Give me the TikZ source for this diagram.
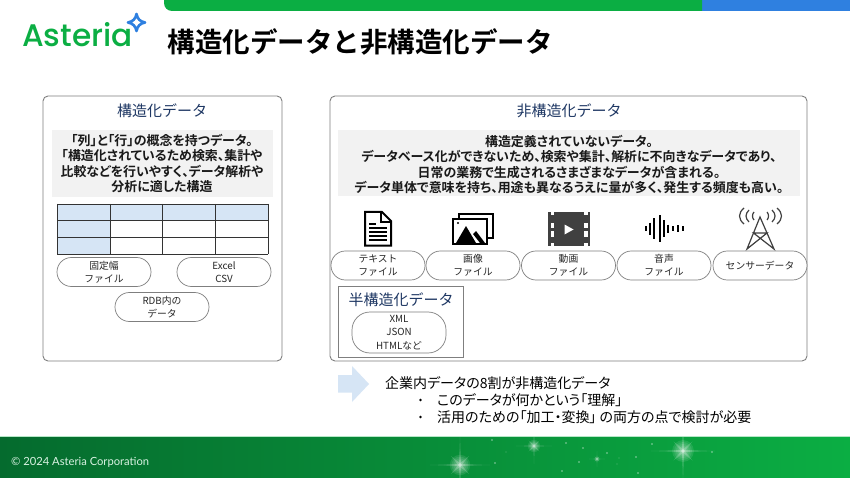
\documentclass[tikz,border=0pt]{standalone}
\usepackage{fontspec}
\setmainfont{Noto Sans CJK JP}[BoldFont={Noto Sans CJK JP Bold}]
\newfontfamily\logofont{Poppins Medium}
\newfontfamily\footfont{Lato}
\newfontfamily\medfont{Noto Sans CJK JP Bold}[RawFeature={+palt}]
\newfontfamily\notefont{Noto Sans CJK JP}[RawFeature={+palt}]
\definecolor{agreen}{HTML}{0BAE43}
\definecolor{ablue}{HTML}{2F80E0}
\definecolor{adark}{HTML}{1F3864}
\definecolor{agrey}{HTML}{F2F2F2}
\definecolor{alight}{HTML}{D6E5F5}
\definecolor{aline}{HTML}{7F7F7F}
\definecolor{iconc}{HTML}{404040}
\definecolor{footl}{HTML}{056B2E}
\newcommand{\spikes}[4]{% x y r opacity
 \fill[white,opacity=#4] (#1-#3,#2) -- (#1,#2-.03*#3) -- (#1+#3,#2) -- (#1,#2+.03*#3) -- cycle;
 \fill[white,opacity=#4] (#1,#2-#3) -- (#1-.03*#3,#2) -- (#1,#2+#3) -- (#1+.03*#3,#2) -- cycle;
}
\newcommand{\sparkle}[3]{%
 \spikes{#1}{#2}{#3}{.18}
 \spikes{#1}{#2}{.55*#3}{.22}
 \foreach \ang in {45,135} {\begin{scope}[shift={(#1,#2)},rotate=\ang]\fill[white,opacity=.18] (-.42*#3,0) -- (0,-.05*#3) -- (.42*#3,0) -- (0,.05*#3) -- cycle;\end{scope}}
 \foreach \rr in {.34,.28,.22,.17,.12,.07} {\fill[white,opacity=.1] (#1,#2) circle[radius=\rr*#3];}
}
\tikzset{
 x=1pt,y=-1pt,
 panel/.style={draw=aline,line width=.9pt,rounded corners=5pt,fill=white},
 heading/.style={text=adark,font=\fontsize{15}{18}\selectfont,inner sep=0pt,anchor=center},
 bodytext/.style={align=center,font=\medfont\fontsize{12.95}{15.3}\selectfont,inner sep=0pt,anchor=center,text=black!90},
 pill/.style={draw=aline,line width=.7pt,fill=white,rounded corners=14.4pt,inner sep=0pt,minimum width=94pt,minimum height=29pt,align=center,font=\fontsize{9.8}{13.2}\selectfont,text=black!85},
 cell/.style={draw=black!80,line width=.9pt},
 iconline/.style={draw=black,line width=2pt,line join=miter},
 note/.style={inner sep=0pt,anchor=west,font=\notefont\fontsize{14}{15}\selectfont},
}
\begin{document}
\begin{tikzpicture}
\useasboundingbox (0,0) rectangle (850,478);
\fill[white] (0,0) rectangle (850,478);
% top bar
\fill[ablue] (690,0) rectangle (850,11);
\fill[agreen] (164,0) -- (164,3) arc[start angle=180,end angle=90,radius=8] -- (702,11) -- (702,0) -- cycle;
% logo
\node[inner sep=0pt,anchor=west,text=agreen,font=\logofont\fontsize{31.2}{31.2}\selectfont] (logo) at (22,35) {Asteria};
\draw[ablue,line width=2.6pt,line join=round] (136.5,14) .. controls (137.5,19) and (140,21.5) .. (145,22.5) .. controls (140,23.5) and (137.5,26) .. (136.5,31) .. controls (135.5,26) and (133,23.5) .. (128,22.5) .. controls (133,21.5) and (135.5,19) .. (136.5,14) -- cycle;
% title
\node[inner sep=0pt,anchor=center,font=\bfseries\fontsize{27.5}{30}\selectfont] (title) at (360,42) {構造化データと非構造化データ};
% left panel
\draw[panel] (43,96) rectangle (282,361);
\node[heading] (h1) at (162,111) {構造化データ};
\fill[agrey] (52,130) rectangle (273,197);
\node[bodytext] (t1) at (162,163.5) {「列」と「行」の概念を持つデータ。\\「構造化されているため検索、集計や\\比較などを行いやすく、データ解析や\\分析に適した構造};
% table
\fill[alight] (57,204) rectangle (268,220);
\fill[alight] (57,220) rectangle (110,254);
\foreach \yy in {204,220.5,237,254} \draw[cell] (57,\yy) -- (268,\yy);
\foreach \xx in {57,110,162,215,268} \draw[cell] (\xx,204) -- (\xx,254);
\node[pill] (p1) at (104,272) {固定幅\\ファイル};
\node[pill] (p2) at (224,272) {Excel\\CSV};
\node[pill] (p3) at (162,307) {RDB内の\\データ};
% right panel
\draw[panel] (330,96) rectangle (807,361);
\node[heading] (h2) at (569,111) {非構造化データ};
\fill[agrey] (338,130) rectangle (800,196);
\node[bodytext] (t2) at (569,164.5) {構造定義されていないデータ。\\データベース化ができないため、検索や集計、解析に不向きなデータであり、\\日常の業務で生成されるさまざまなデータが含まれる。\\データ単体で意味を持ち、用途も異なるうえに量が多く、発生する頻度も高い。};
% pills
\node[pill] (q1) at (378,265.5) {テキスト\\ファイル};
\node[pill] (q2) at (473,265.5) {画像\\ファイル};
\node[pill] (q3) at (568.5,265.5) {動画\\ファイル};
\node[pill] (q4) at (664,265.5) {音声\\ファイル};
\node[pill] (q5) at (760,265.5) {センサーデータ};
% doc icon
\draw[iconline,fill=white] (365,212) -- (382,212) -- (391,221) -- (391,245.5) -- (365,245.5) -- cycle;
\draw[black,line width=1.4pt] (381,212) -- (381,222) -- (391,222);
\draw[black,line width=1.2pt] (369,224) -- (376,224) (369,228) -- (387,228) (369,232) -- (387,232) (369,236) -- (387,236) (369,240) -- (387,240);
% image icon
\draw[iconline,fill=white] (459,214) rectangle (493,238);
\draw[iconline,fill=white] (453,219) rectangle (487,244);
\fill[black] (456,243) -- (466,226) -- (476,243) -- cycle;
\fill[black] (473,234) -- (476,231) -- (485,243) -- (480,243) -- cycle;
\fill[black] (458,223) circle[radius=1.1];
% video icon
\fill[iconc] (548,212) rectangle (590,246);
\foreach \ya/\yb in {212/215.5,222.5/228,231/236.5,243/246} {\fill[white] (550.5,\ya) rectangle (554,\yb);\fill[white] (584,\ya) rectangle (587.5,\yb);}
\fill[white] (564.5,224.5) -- (573.5,229.5) -- (564.5,234.5) -- cycle;
% audio icon
\foreach \xx/\hh in {646/2.5,650/6,654/10,660/13,664/8,668/4,673/2.5,678/3.5,683/2.5} \draw[black,line width=1.7pt] (\xx,228.5-\hh) -- (\xx,228.5+\hh);
% antenna
\draw[black!75,line width=1.2pt,line join=miter] (747,249) -- (760,217) -- (774,249) -- (753.5,233) -- (767,233) -- cycle;
\draw[black!75,line width=1.2pt] (744,208) .. controls (738,213) and (738,219) .. (744,224);
\draw[black!75,line width=1.2pt] (749,210) .. controls (745,214) and (745,218) .. (749,222);
\draw[black!75,line width=1.2pt] (754,212) .. controls (752,214) and (752,218) .. (754,220);
\draw[black!75,line width=1.2pt] (777,208) .. controls (783,213) and (783,219) .. (777,224);
\draw[black!75,line width=1.2pt] (772,210) .. controls (776,214) and (776,218) .. (772,222);
\draw[black!75,line width=1.2pt] (767,212) .. controls (769,214) and (769,218) .. (767,220);
% semi-structured
\draw[draw=aline,line width=.9pt] (338,286) rectangle (463,357);
\node[heading] (h3) at (401,299.5) {半構造化データ};
\node[pill,rounded corners=18pt,minimum height=41pt,minimum width=94pt] (q6) at (399,332.5) {XML\\JSON\\HTMLなど};
% arrow
\fill[alight] (338,375) -- (352,375) -- (352,366) -- (369,384) -- (352,402) -- (352,392.5) -- (338,392.5) -- cycle;
% notes
\node[note] (n1) at (385,383) {企業内データの8割が非構造化データ};
\node[note] (n2) at (437,400) {このデータが何かという「理解」};
\node[note] (n3) at (437,417) {活用のための「加工・変換」 の両方の点で検討が必要};
\fill[black] (420.5,400) circle[radius=1.3];
\fill[black] (420.5,417) circle[radius=1.3];
% footer
\shade[left color=footl,right color=agreen,shading angle=90] (0,436) rectangle (850,478);
\begin{scope}
\clip (0,437) rectangle (850,478);
\sparkle{460}{465}{30}
\sparkle{534}{446}{18}
\sparkle{683}{451}{32}
\sparkle{597}{459}{8}
\foreach \sx/\sy in {492/440,495/463,566/443,583/448,579/462,607/453,636/457,562/471,638/473,652/444,712/452} {\fill[white,opacity=.55] (\sx,\sy) circle[radius=.9];}
\foreach \sx/\sy in {506/452,619/458,617/464} {\fill[white,opacity=.3] (\sx,\sy) circle[radius=.6];}
\end{scope}
\fill[white!70!agreen] (0,435.5) rectangle (850,437);
\node[inner sep=0pt,anchor=west,text=white!85!agreen,font=\footfont\fontsize{11.2}{13}\selectfont] (foot) at (11,462) {© 2024 Asteria Corporation};
\end{tikzpicture}
\end{document}
